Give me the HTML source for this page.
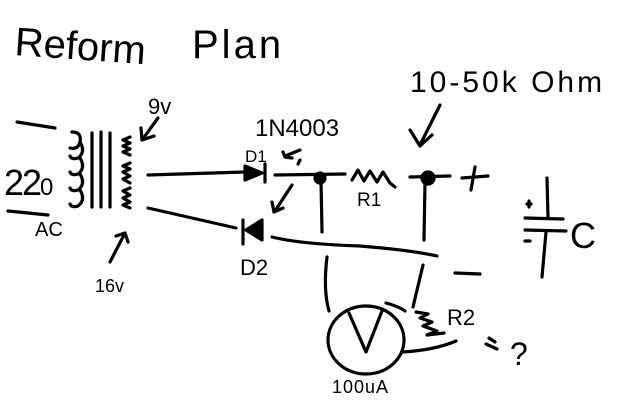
<!DOCTYPE html>
<html><head><style>
html,body{margin:0;padding:0;background:#fff;width:640px;height:400px;overflow:hidden}
svg{display:block}
text{font-family:"Liberation Sans",sans-serif;fill:#000}
</style></head><body>
<svg width="640" height="400" viewBox="0 0 640 400" fill="none" stroke="#000" stroke-width="3.2" stroke-linecap="round" stroke-linejoin="round">
<text x="14" y="55" font-size="40" stroke="none" transform="rotate(4 14 55)">Reform</text>
<text x="192" y="58" font-size="40" stroke="none" letter-spacing="3">Plan</text>
<text x="410" y="92" font-size="30" stroke="none" letter-spacing="3">10-50k Ohm</text>
<path d="M440 105 L420 145 M410 130 L420 146 L432 135"/>
<!-- transformer -->
<path d="M17 122 L55 128 M8 211 L48 215"/>
<path d="M72 132 Q82 132 80 142 Q78 150 70 148 M80 142 Q86 152 78 158 Q72 160 70 156 M80 158 Q86 168 78 174 Q72 176 70 172 M80 174 Q86 184 78 190 Q72 192 70 188 M80 190 Q86 200 78 206 Q72 208 70 204"/>
<path d="M92 133 L92 207 M101 132 L101 207 M110 133 L110 207"/>
<path d="M130 137 L123 140 L130 143 L123 146 L130 149 L123 152 L130 155 M130 163 L123 166 L130 169 L123 172 L130 176 L123 179 L130 183 M130 188 L123 191 L130 195 L123 198 L130 202 L123 205 L130 208"/>
<text x="4" y="195" font-size="36" stroke="none" letter-spacing="-2">22<tspan font-size="24">0</tspan></text>
<text x="35" y="236" font-size="20" stroke="none">AC</text>
<text x="148" y="114" font-size="22" stroke="none">9v</text>
<path d="M158 118 L142 140 M141 128 L142 140 L154 136"/>
<text x="95" y="292" font-size="18" stroke="none">16v</text>
<path d="M110 262 L125 233 M116 236 L125 233 L128 242"/>
<!-- D1 -->
<path d="M148 175 L245 172"/>
<path d="M245 166 L262 173 L245 180 Z" fill="#000"/>
<path d="M265 164 L265 182"/>
<text x="245" y="162" font-size="17" stroke="none">D1</text>
<text x="255" y="136" font-size="24" stroke="none">1N4003</text>
<path d="M300 150 L285 156 M283 152 L285 157 L292 158 M300 160 L298 164"/>
<path d="M292 185 L275 211 M272 202 L274 212 L283 208"/>
<path d="M275 175 L345 174"/>
<circle cx="320" cy="178" r="5" fill="#000"/>
<path d="M352 180 L358 170 L364 181 L370 171 L377 182 L383 172 L390 183 L395 187"/>
<text x="357" y="206" font-size="19" stroke="none">R1</text>
<path d="M410 177 L450 176"/>
<circle cx="428" cy="178" r="6" fill="#000"/>
<path d="M462 178 L488 176 M475 167 L471 190"/>
<!-- D2 -->
<path d="M148 208 L236 228"/>
<path d="M262 220 L246 230 L262 240 Z" fill="#000"/>
<path d="M243 220 L243 244"/>
<text x="240" y="275" font-size="22" stroke="none">D2</text>
<path d="M272 237 Q300 244 360 246 Q410 250 437 256"/>
<path d="M321 180 L322 232 M425 182 L424 240"/>
<path d="M455 273 L480 274"/>
<!-- meter -->
<path d="M327 257 Q323 290 329 311"/>
<ellipse cx="366" cy="340" rx="38" ry="34"/>
<path d="M349 313 L366 352 L382 311"/>
<path d="M386 303 Q398 306 405 311"/>
<text x="332" y="393" font-size="18" stroke="none" letter-spacing="1">100uA</text>
<path d="M423 265 L413 307"/>
<path d="M416 312 L428 314 L420 318 L432 322 L423 326 L437 331 L427 335 L444 333"/>
<text x="447" y="325" font-size="22" stroke="none">R2</text>
<path d="M403 352 Q435 350 456 341"/>
<path d="M489 338 L495 342 M486 344 L497 349"/>
<text x="510" y="365" font-size="32" stroke="none">?</text>
<!-- capacitor -->
<path d="M547 178 L548 218 M525 218 L563 219 M525 230 L566 231 M546 232 L542 277"/>
<path d="M527 204 L531 204 M529 201 L529 207 M525 241 L530 241"/>
<text x="570" y="248" font-size="36" stroke="none">C</text>
</svg>
</body></html>
